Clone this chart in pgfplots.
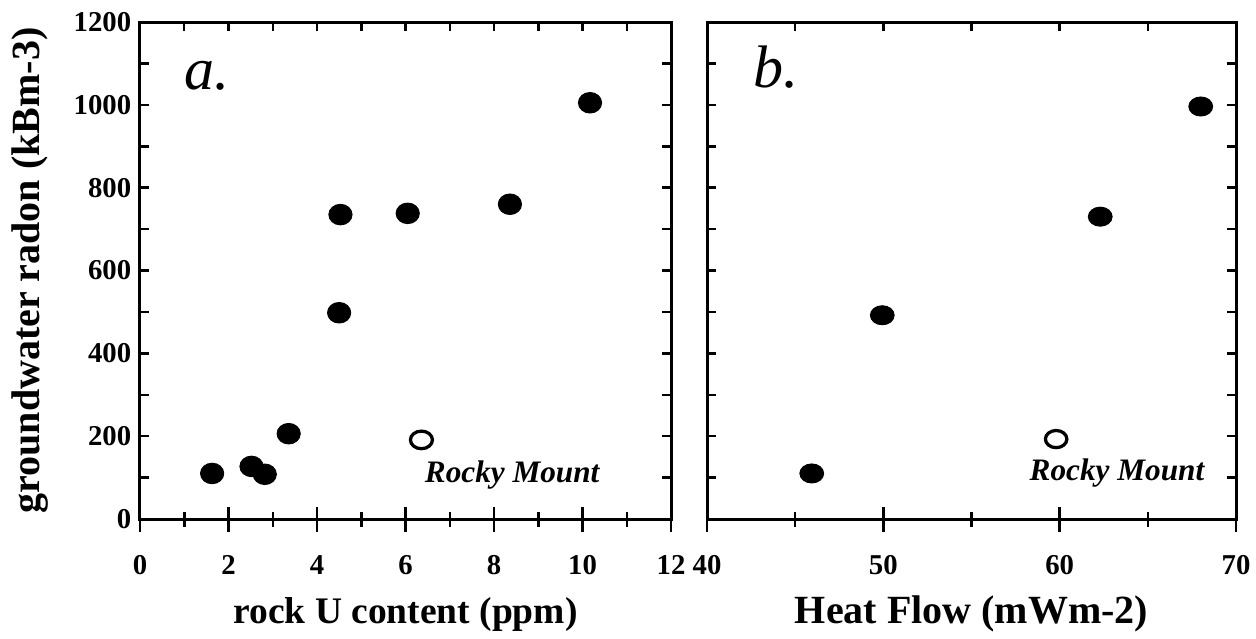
\documentclass[border=0pt]{standalone}
\usepackage{fontspec}
\setmainfont{Liberation Serif}
\usepackage{pgfplots}
\pgfplotsset{compat=1.18}
\begin{document}
\begin{tikzpicture}
\path[use as bounding box] (-56pt,-47.6pt) rectangle (446.4pt,207.6pt);
\pgfplotsset{
  boxA/.style={scale only axis, height=198.8pt, ymin=0, ymax=1200,
    axis line style={line width=1.2pt},
    tick align=inside, xtick pos=right, xticklabels={},
    minor x tick num=1, ytick={0,200,...,1200}, minor y tick num=1,
    ytick pos=both, yticklabel pos=left,
    major tick length=3.5pt, minor tick length=3.5pt,
    every tick/.append style={line width=1pt, black},
    yticklabel style={font=\fontsize{11.5}{11.5}\selectfont\bfseries},
    /pgf/number format/assume math mode=true,
    /pgf/number format/1000 sep={},
    clip=false},
  boxB/.style={scale only axis, height=198.8pt, ymin=0, ymax=1200,
    hide y axis, axis x line*=bottom, axis line style={line width=1.2pt, -},
    tick align=center, minor x tick num=1, major tick length=10pt, minor tick length=6pt,
    every tick/.append style={line width=1pt, black},
    xticklabel style={font=\fontsize{11.5}{11.5}\selectfont\bfseries, yshift=-6pt},
    /pgf/number format/assume math mode=true,
    /pgf/number format/1000 sep={},
    xlabel style={font=\fontsize{15}{15}\selectfont\bfseries,
      at={([yshift=-41.6pt]axis description cs:0.5,0)}, anchor=base},
  }
}
% ---------- panel a ----------
\begin{axis}[boxA, at={(0,0)}, anchor=south west, width=212.4pt,
  xmin=0, xmax=12, xtick={0,2,...,12},
  ylabel={groundwater radon (kBm-3)},
  ylabel style={font=\fontsize{16}{16}\selectfont\bfseries,
    at={([xshift=-44pt]axis description cs:0,0.5)}, anchor=center}]
\addplot[only marks, mark=*, mark size=4.1pt,
  mark options={xscale=1.13, fill=black, draw=black}] coordinates {
  (1.63,110) (2.52,127) (2.82,108) (3.36,206) (4.50,498)
  (4.53,735) (6.05,738) (8.36,760) (10.17,1005)};
\addplot[only marks, mark=o, mark size=4pt,
  mark options={xscale=1.1, yscale=0.88, line width=1.3pt, draw=black}] coordinates {(6.36,191)};
\node[anchor=base west, font=\fontsize{24}{24}\selectfont\itshape] at (axis cs:0.81,1037) {a.};
\node[anchor=base west, font=\fontsize{12.5}{12.5}\selectfont\bfseries\itshape] at (axis cs:6.24,88) {Rocky Mount};
\end{axis}
\begin{axis}[boxB, at={(0,0)}, anchor=south west, width=212.4pt,
  xmin=0, xmax=12, xtick={0,2,...,12},
  xlabel={rock U content (ppm)}]
\end{axis}
% ---------- panel b ----------
\begin{axis}[boxA, at={(226.8pt,0)}, anchor=south west, width=211.6pt,
  xmin=40, xmax=70, xtick={40,50,60,70}, yticklabels={}]
\addplot[only marks, mark=*, mark size=3.8pt,
  mark options={xscale=1.25, fill=black, draw=black}] coordinates {
  (45.94,110) (49.94,492) (62.3,730) (68.0,996)};
\addplot[only marks, mark=o, mark size=3.9pt,
  mark options={xscale=1.1, yscale=0.88, line width=1.3pt, draw=black}] coordinates {(59.8,193)};
\node[anchor=base west, font=\fontsize{24}{24}\selectfont\itshape] at (axis cs:42.15,1042) {b.};
\node[anchor=base west, font=\fontsize{12.5}{12.5}\selectfont\bfseries\itshape] at (axis cs:57.8,92) {Rocky Mount};
\end{axis}
\begin{axis}[boxB, at={(226.8pt,0)}, anchor=south west, width=211.6pt,
  xmin=40, xmax=70, xtick={40,50,60,70},
  xlabel={Heat Flow (mWm-2)},
  xlabel style={font=\fontsize{16}{16}\selectfont\bfseries}]
\end{axis}
\end{tikzpicture}
\end{document}
